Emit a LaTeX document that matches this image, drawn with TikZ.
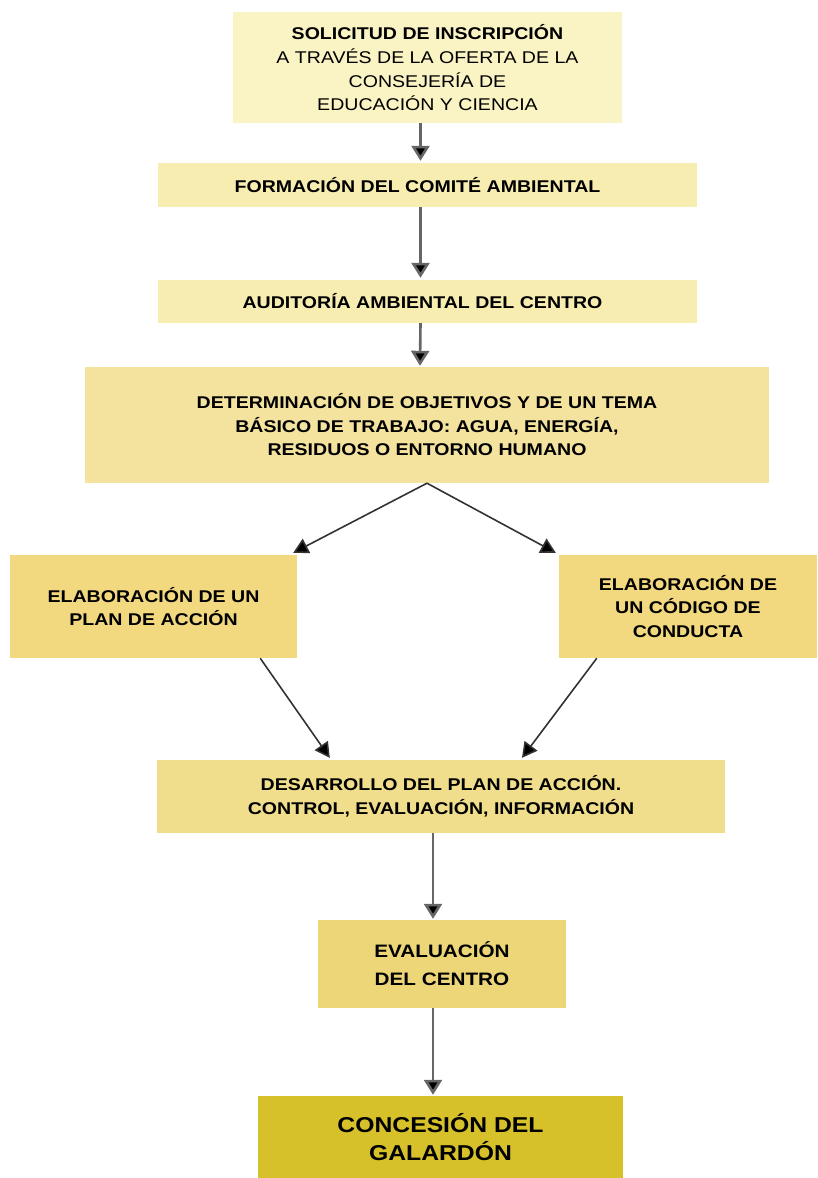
\documentclass[tikz,border=0pt]{standalone}
\usepackage{fontspec}
\setmainfont{Liberation Sans}[FakeStretch=1.15]
\usetikzlibrary{arrows.meta}
\definecolor{c1}{HTML}{FAF4C4}
\definecolor{c2}{HTML}{F7EDB0}
\definecolor{c4}{HTML}{F4E39E}
\definecolor{c5}{HTML}{F2D87E}
\definecolor{c6}{HTML}{F0DE8C}
\definecolor{c7}{HTML}{ECD677}
\definecolor{c8}{HTML}{D6C12A}
\tikzset{
  box/.style={draw=none, inner sep=0pt, align=center, font=\fontsize{17}{23.5}\selectfont\bfseries},
  arr/.style={draw=black!60, line width=2.6pt, -{Triangle[length=15pt,width=18pt,fill=black]}},
  darr/.style={draw=black!80, line width=1.6pt, -{Triangle[length=15pt,width=16pt,fill=black]}}
}
\begin{document}
\begin{tikzpicture}[x=1pt,y=-1pt]
\useasboundingbox (0,0) rectangle (817,1178);
\node[box, fill=c1, minimum width=389pt, minimum height=111pt] (b1) at (427.5,67.5)
  {SOLICITUD DE INSCRIPCIÓN\\[1pt]\mdseries A TRAVÉS DE LA OFERTA DE LA\\\mdseries CONSEJERÍA DE\\\mdseries EDUCACIÓN Y CIENCIA};
\node[box, fill=c2, minimum width=539pt, minimum height=44pt] (b2) at (427.5,185) {\hspace*{-20pt}FORMACIÓN DEL COMITÉ AMBIENTAL};
\node[box, fill=c2, minimum width=539pt, minimum height=43pt] (b3) at (427.5,301.5) {\hspace*{-10pt}AUDITORÍA AMBIENTAL DEL CENTRO};
\node[box, fill=c4, minimum width=684pt, minimum height=116pt] (b4) at (427,425)
  {DETERMINACIÓN DE OBJETIVOS Y DE UN TEMA\\BÁSICO DE TRABAJO: AGUA, ENERGÍA,\\RESIDUOS O ENTORNO HUMANO};
\node[box, fill=c5, minimum width=287pt, minimum height=103pt] (bl) at (153.5,606.5)
  {ELABORACIÓN DE UN\\PLAN DE ACCIÓN};
\node[box, fill=c5, minimum width=258pt, minimum height=103pt] (br) at (688,606.5)
  {ELABORACIÓN DE\\UN CÓDIGO DE\\CONDUCTA};
\node[box, fill=c6, minimum width=568pt, minimum height=73pt] (b6) at (441,796.5)
  {DESARROLLO DEL PLAN DE ACCIÓN.\\CONTROL, EVALUACIÓN, INFORMACIÓN};
\node[box, fill=c7, minimum width=248pt, minimum height=88pt, font=\fontsize{18}{28}\selectfont\bfseries] (b7) at (442,964)
  {EVALUACIÓN\\DEL CENTRO};
\node[box, fill=c8, minimum width=365pt, minimum height=82pt, font=\fontsize{21.5}{28}\selectfont\bfseries] (b8) at (440.5,1137)
  {CONCESIÓN DEL\\GALARDÓN};
\draw[arr] ([xshift=-7pt]b1.south) -- ([xshift=-7pt,yshift=2pt]b2.north);
\draw[arr] ([xshift=-7pt]b2.south) -- ([xshift=-7pt,yshift=2pt]b3.north);
\draw[arr] ([xshift=-7pt]b3.south) -- ([xshift=-7pt,yshift=1pt]b4.north);
\draw[darr] (b4.south) -- ([xshift=-4pt,yshift=2pt]bl.north east);
\draw[darr] (b4.south) -- ([xshift=-3pt,yshift=2pt]br.north west);
\draw[darr] ([xshift=-37pt]bl.south east) -- ([xshift=173pt,yshift=2pt]b6.north west);
\draw[darr] ([xshift=38pt]br.south west) -- ([xshift=81pt,yshift=2pt]b6.north);
\draw[arr] ([xshift=-8pt]b6.south) -- ([xshift=-9pt,yshift=1pt]b7.north);
\draw[arr] ([xshift=-9pt]b7.south) -- ([xshift=-7.5pt,yshift=1pt]b8.north);
\end{tikzpicture}
\end{document}
